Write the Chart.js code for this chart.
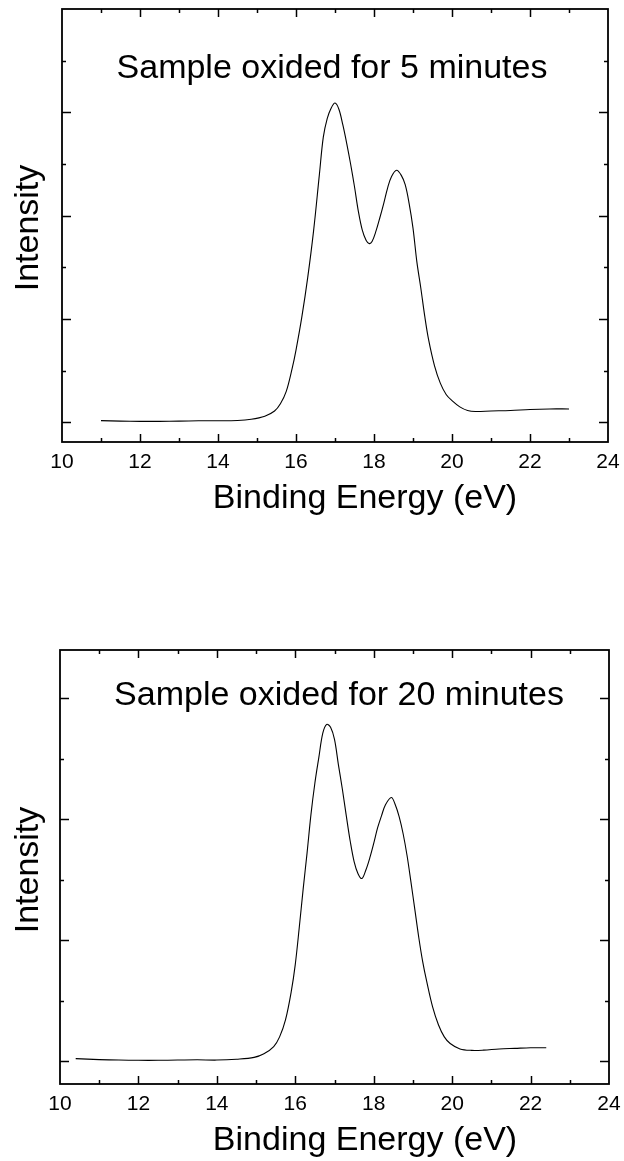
<!DOCTYPE html>
<html>
<head>
  <title>Binding Energy spectra</title>
  <meta charset="UTF-8" />
  <script src="https://cdn.jsdelivr.net/npm/chart.js"></script>
  <style>
    body { margin: 0; background: #fff; }
    .wrap { position: relative; width: 624px; height: 1161px; }
    canvas { position: absolute; left: 0; }
  </style>
</head>
<body>
  <div class="wrap">
    <canvas id="chart5" width="624" height="580" style="top:0"></canvas>
    <canvas id="chart20" width="624" height="581" style="top:580px"></canvas>
  </div>

  <script>
    // sample oxided for 5 minutes
    const energy5 = [11.0, 11.5, 12.0, 12.5, 13.0, 13.5, 14.0, 14.5, 14.85, 15.2, 15.45, 15.6, 15.75, 15.9, 16.0,
      16.15, 16.3, 16.45, 16.6, 16.7, 16.8, 16.9, 17.0, 17.1, 17.2, 17.3, 17.4, 17.5, 17.6, 17.7, 17.8, 17.88,
      17.95, 18.05, 18.15, 18.25, 18.35, 18.45, 18.58, 18.7, 18.8, 18.9, 19.0, 19.1, 19.2, 19.3, 19.4, 19.55,
      19.7, 19.85, 20.0, 20.2, 20.4, 20.6, 21.0, 21.5, 22.0, 22.5, 23.0];
    const intensity5 = [0.017, 0.012, 0.01, 0.01, 0.012, 0.015, 0.015, 0.018, 0.03, 0.06, 0.11, 0.18, 0.30, 0.52, 0.70,
      1.02, 1.40, 1.85, 2.40, 2.76, 2.94, 3.04, 3.09, 3.03, 2.88, 2.70, 2.50, 2.28, 2.04, 1.86, 1.76, 1.73,
      1.75, 1.85, 1.98, 2.12, 2.27, 2.38, 2.44, 2.39, 2.30, 2.12, 1.88, 1.55, 1.30, 1.03, 0.80, 0.55,
      0.38, 0.27, 0.21, 0.15, 0.115, 0.105, 0.11, 0.115, 0.125, 0.13, 0.13];

    // sample oxided for 20 minutes
    const energy20 = [10.4, 11.0, 11.5, 12.0, 12.5, 13.0, 13.5, 14.0, 14.5, 14.95, 15.2, 15.45, 15.6, 15.75, 15.9,
      16.0, 16.1, 16.2, 16.3, 16.4, 16.5, 16.6, 16.7, 16.8, 16.9, 17.0, 17.1, 17.2, 17.3, 17.4, 17.5, 17.6,
      17.7, 17.8, 17.9, 18.0, 18.1, 18.2, 18.3, 18.45, 18.55, 18.65, 18.75, 18.85, 18.95, 19.05, 19.15,
      19.25, 19.35, 19.5, 19.65, 19.8, 19.95, 20.2, 20.5, 20.8, 21.2, 21.6, 22.0, 22.4];
    const intensity20 = [0.02, 0.012, 0.008, 0.006, 0.006, 0.008, 0.01, 0.008, 0.015, 0.03, 0.06, 0.12, 0.2, 0.34, 0.58,
      0.80, 1.10, 1.42, 1.72, 2.04, 2.30, 2.51, 2.71, 2.785, 2.76, 2.66, 2.45, 2.25, 2.03, 1.82, 1.65, 1.55,
      1.51, 1.58, 1.68, 1.80, 1.93, 2.03, 2.12, 2.18, 2.12, 2.02, 1.88, 1.70, 1.48, 1.25, 1.02,
      0.82, 0.66, 0.45, 0.30, 0.20, 0.145, 0.10, 0.088, 0.09, 0.10, 0.105, 0.11, 0.11];

    const xMajorTicks = [12, 14, 16, 18, 20, 22];
    const xMinorTicks = [11, 13, 15, 17, 19, 21, 23];
    const yMajorTicks = [0, 1, 2, 3];
    const yMinorTicks = [0.5, 1.5, 2.5, 3.5];

    const FONT = "'Liberation Sans', Arial, sans-serif";

    // frame, inward ticks and the big labels
    const framePlugin = {
      id: 'frame',
      afterDraw(chart, args, opts) {
        const ctx = chart.ctx;
        const a = chart.chartArea;
        const xs = chart.scales.x, ys = chart.scales.y;
        ctx.save();
        ctx.strokeStyle = '#000';
        ctx.lineWidth = 1.5;

        const tick = (x1, y1, x2, y2) => {
          ctx.beginPath(); ctx.moveTo(x1, y1); ctx.lineTo(x2, y2); ctx.stroke();
        };
        xMajorTicks.concat(xMinorTicks).forEach(v => {
          const len = xMajorTicks.includes(v) ? 8 : 4;
          const px = Math.round(xs.getPixelForValue(v)) + 0.5;
          tick(px, a.bottom, px, a.bottom - len);
          tick(px, a.top, px, a.top + len);
        });
        yMajorTicks.concat(yMinorTicks).forEach(v => {
          if (v > ys.max) return;
          const len = yMajorTicks.includes(v) ? 9 : 4;
          const py = Math.round(ys.getPixelForValue(v)) + 0.5;
          tick(a.left, py, a.left + len, py);
          tick(a.right, py, a.right - len, py);
        });

        ctx.lineWidth = 1.8;
        ctx.strokeRect(a.left, a.top, a.right - a.left, a.bottom - a.top);

        ctx.fillStyle = '#000';
        ctx.font = '34px ' + FONT;
        ctx.textAlign = 'center';
        ctx.textBaseline = 'alphabetic';
        ctx.fillText(opts.note, opts.noteX, opts.noteY);
        ctx.fillText('Binding Energy (eV)', 365, opts.titleY);

        ctx.translate(38, opts.yTitleY);
        ctx.rotate(-Math.PI / 2);
        ctx.fillText('Intensity', 0, 0);
        ctx.restore();
      }
    };

    function makeChart(id, energy, intensity, yMax, area, frameOpts) {
      return new Chart(document.getElementById(id), {
        type: 'line',
        data: {
          datasets: [{
            data: energy.map((e, i) => ({ x: e, y: intensity[i] })),
            borderColor: '#000',
            borderWidth: 1.1,
            pointRadius: 0,
            tension: 0.35,
            fill: false
          }]
        },
        options: {
          responsive: false,
          animation: false,
          events: [],
          layout: { padding: { top: area.top, right: 624 - area.right, left: 0, bottom: 0 } },
          plugins: { legend: { display: false }, tooltip: { enabled: false }, frame: frameOpts },
          scales: {
            x: {
              type: 'linear',
              min: 10, max: 24,
              grid: { display: false, drawTicks: false },
              border: { display: false },
              ticks: { stepSize: 2, padding: 8, color: '#000', maxRotation: 0, font: { family: FONT, size: 21 } },
              afterFit: s => {
                s.height = area.canvasH - area.bottom;
                s.paddingLeft = 0;
                s.paddingRight = 0;
              }
            },
            y: {
              min: -0.19, max: yMax,
              grid: { display: false, drawTicks: false },
              border: { display: false },
              ticks: { display: false },
              afterFit: s => { s.width = area.left; }
            }
          }
        },
        plugins: [framePlugin]
      });
    }

    makeChart('chart5', energy5, intensity5, 4.0,
      { left: 62, right: 608, top: 9, bottom: 442, canvasH: 580 },
      { note: 'Sample oxided for 5 minutes', noteX: 332, noteY: 78, titleY: 508, yTitleY: 228 });

    makeChart('chart20', energy20, intensity20, 3.4,
      { left: 60, right: 609, top: 70, bottom: 504, canvasH: 581 },
      { note: 'Sample oxided for 20 minutes', noteX: 339, noteY: 125, titleY: 570, yTitleY: 290 });
  </script>
</body>
</html>
